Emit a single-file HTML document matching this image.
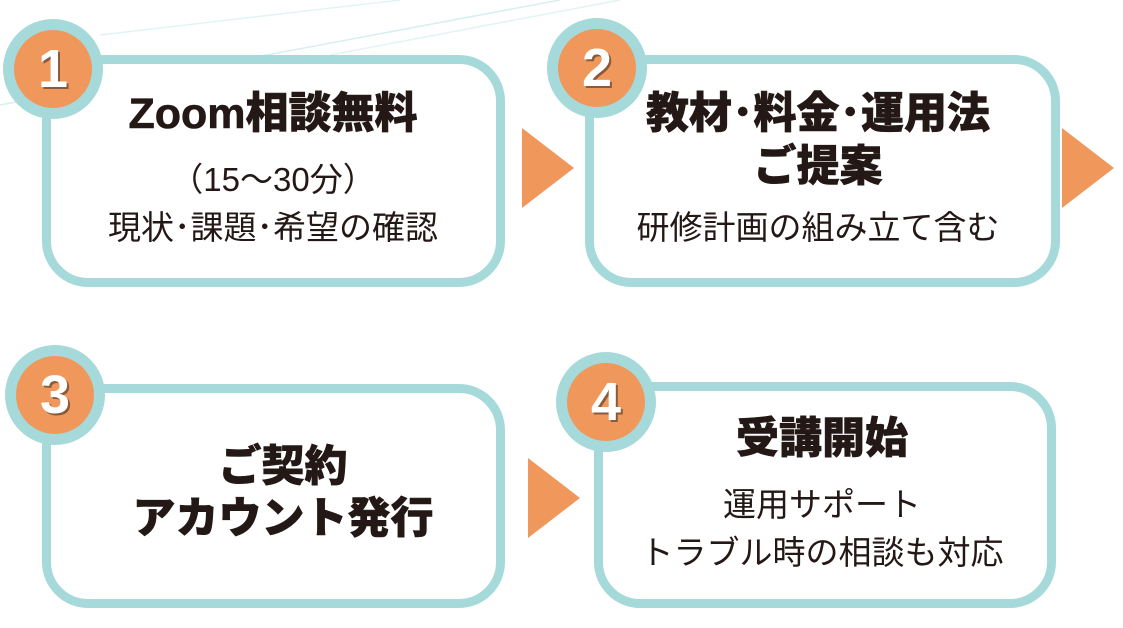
<!DOCTYPE html>
<html><head><meta charset="utf-8"><style>
body{margin:0;width:1123px;height:628px;background:#fff;position:relative;overflow:hidden;font-family:"Liberation Sans","Noto Sans CJK JP",sans-serif;color:#231815}
.box{position:absolute;border:9px solid #a6d9d9;border-radius:46px;box-sizing:border-box;background:#fff}
.c{position:absolute;width:100px;height:100px;border-radius:50%;background:#a6d9d9;}
.c div{position:absolute;left:11px;top:11px;width:78px;height:78px;border-radius:50%;background:#f0985c;color:#fff;font-weight:bold;font-size:54px;line-height:78px;text-align:center;text-shadow:2px 2px 0 #8a5a3a}
.t{position:absolute;text-align:center;white-space:nowrap;transform:translateX(-50%);line-height:1.15}
.b{font-weight:900;font-size:43px;-webkit-text-stroke:0.6px #231815}
.s{font-size:33px}
.ar{position:absolute;width:0;height:0;border-top:40px solid transparent;border-bottom:40px solid transparent;border-left:52px solid #f0985c}
</style></head><body>
<svg style="position:absolute;left:0;top:0" width="1123" height="120"><line x1="0" y1="105" x2="560" y2="0" stroke="#d8eef0" stroke-width="1.5"/><line x1="100" y1="35" x2="400" y2="0" stroke="#e3f3f4" stroke-width="1.5"/><line x1="330" y1="55" x2="620" y2="0" stroke="#e3f3f4" stroke-width="1.5"/></svg>
<div class="box" style="left:42px;top:55px;width:463px;height:232px"></div>
<div class="box" style="left:585px;top:55px;width:475px;height:232px"></div>
<div class="box" style="left:42px;top:384px;width:463px;height:224px"></div>
<div class="box" style="left:594px;top:382px;width:462px;height:226px"></div>
<div class="c" style="left:3px;top:19px"><div>1</div></div>
<div class="c" style="left:547px;top:18px"><div>2</div></div>
<div class="c" style="left:5px;top:345px"><div>3</div></div>
<div class="c" style="left:556px;top:352px"><div>4</div></div>
<div class="ar" style="left:522px;top:128px"></div>
<div class="ar" style="left:1062px;top:128px"></div>
<div class="ar" style="left:528px;top:458px"></div>
<div class="t b" style="left:273px;top:90px">Zoom相談無料</div>
<div class="t s" style="left:273px;top:161px">（15～30分）</div>
<div class="t s" style="left:273px;top:209px">現状･課題･希望の確認</div>
<div class="t b" style="left:818px;top:90px">教材･料金･運用法</div>
<div class="t b" style="left:818px;top:143px">ご提案</div>
<div class="t s" style="left:818px;top:209px">研修計画の組み立て含む</div>
<div class="t b" style="left:283px;top:443px">ご契約</div>
<div class="t b" style="left:283px;top:495px">アカウント発行</div>
<div class="t b" style="left:822px;top:415px">受講開始</div>
<div class="t s" style="left:822px;top:486px">運用サポート</div>
<div class="t s" style="left:822px;top:534px">トラブル時の相談も対応</div>
</body></html>
